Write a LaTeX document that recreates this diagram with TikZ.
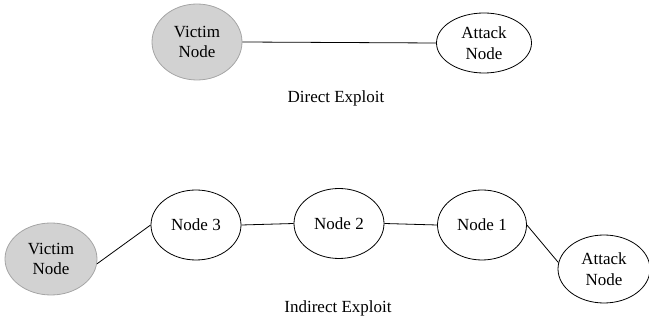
\documentclass[tikz,border=0pt]{standalone}
\usepackage{fontspec}
\setmainfont{Liberation Serif}
\usetikzlibrary{shapes.geometric}
\definecolor{victimfill}{RGB}{210,210,210}
\definecolor{victimline}{RGB}{165,165,165}
\begin{document}
\begin{tikzpicture}[x=1pt,y=-1pt,
  netnode/.style={ellipse,draw=black,line width=0.8pt,inner sep=0pt,
    minimum width=90pt,minimum height=70pt,align=center,
    font=\fontsize{17}{20.5}\selectfont},
  victim/.style={netnode,fill=victimfill,draw=victimline},
  link/.style={draw=black,line width=0.8pt},
  caption/.style={font=\fontsize{17}{20}\selectfont}]
\useasboundingbox (0,0) rectangle (649,320);

% direct exploit
\node[victim,minimum height=76pt] (v1) at (197,42) {Victim\\Node};
\node[netnode,minimum width=95pt,minimum height=60pt] (a1) at (484,43) {Attack\\Node};
\draw[link] (v1.east) -- (a1.west);
\node[caption] (c1) at (336,98) {Direct Exploit};

% indirect exploit through a chain of nodes
\node[victim,minimum width=92pt,minimum height=72pt] (v2) at (51,259) {Victim\\Node};
\node[netnode] (n3) at (196,225) {Node 3};
\node[netnode] (n2) at (339,223.5) {Node 2};
\node[netnode,minimum width=89pt] (n1) at (482,225) {Node 1};
\node[netnode,minimum width=92pt,minimum height=68pt] (a2) at (604,269) {Attack\\Node};
\draw[link] (v2.-6) -- (n3.west);
\draw[link] (n3.east) -- (n2.west);
\draw[link] (n2.east) -- (n1.west);
\draw[link] (n1.east) -- (a2.172);
\node[caption] (c2) at (338,308) {Indirect Exploit};
\end{tikzpicture}
\end{document}
